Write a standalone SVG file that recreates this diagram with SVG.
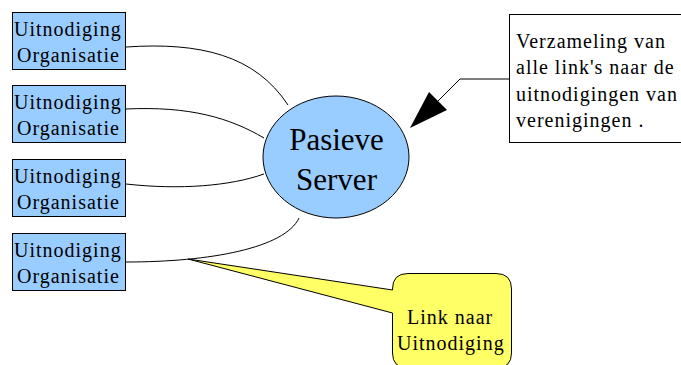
<svg xmlns="http://www.w3.org/2000/svg" width="681" height="365" viewBox="0 0 681 365">
<style>
.box{fill:#99ccff;stroke:#000;stroke-width:1}
.t{font-family:"Liberation Serif",serif;font-size:20px;letter-spacing:1px;fill:#000}
.big{font-family:"Liberation Serif",serif;font-size:31px;fill:#000}
.con{fill:none;stroke:#000;stroke-width:1}
</style>
<rect width="681" height="365" fill="#fff"/>
<g id="connectors">
<path class="con" d="M126,47 C200,42 255,55 288,105"/>
<path class="con" d="M126,109 C190,106 230,118 264,138"/>
<path class="con" d="M126,184 C180,190 230,186 264,174"/>
<path class="con" d="M126,262 C210,262 285,248 299,218"/>
<polyline class="con" points="509,79 460,79 438,101"/>
<polygon points="410,128 429,92 447,110" fill="#000"/>
</g>
<g id="org1"><rect class="box" x="12.5" y="12.5" width="113" height="57"/><text class="t" x="14" y="36">Uitnodiging</text><text class="t" x="17" y="62">Organisatie</text></g>
<g id="org2"><rect class="box" x="12.5" y="85.5" width="113" height="57"/><text class="t" x="14" y="109">Uitnodiging</text><text class="t" x="17" y="135">Organisatie</text></g>
<g id="org3"><rect class="box" x="12.5" y="159.5" width="113" height="57"/><text class="t" x="14" y="183">Uitnodiging</text><text class="t" x="17" y="209">Organisatie</text></g>
<g id="org4"><rect class="box" x="12.5" y="233.5" width="113" height="57"/><text class="t" x="14" y="257">Uitnodiging</text><text class="t" x="17" y="283">Organisatie</text></g>
<g id="server"><ellipse class="box" cx="336" cy="157" rx="73" ry="61"/><text class="big" x="336.5" y="150" text-anchor="middle">Pasieve</text><text class="big" x="336.5" y="190" text-anchor="middle">Server</text></g>
<g id="note"><rect x="509.5" y="14.5" width="200" height="128" fill="#fff" stroke="#000"/>
<text class="t" x="516" y="48">Verzameling van</text>
<text class="t" x="516" y="74">alle link's naar de</text>
<text class="t" x="516" y="101">uitnodigingen van</text>
<text class="t" x="516" y="127">verenigingen .</text></g>
<g id="link"><path d="M408,273.5 H496 Q511.5,273.5 511.5,289 V353 Q511.5,368 496,368 H408 Q392.5,368 392.5,353 V313 L188,259 L392.5,290 V289 Q392.5,273.5 408,273.5 Z" fill="#ffff66" stroke="#000"/>
<text class="t" x="407" y="324">Link naar</text>
<text class="t" x="397" y="350">Uitnodiging</text></g>
</svg>
